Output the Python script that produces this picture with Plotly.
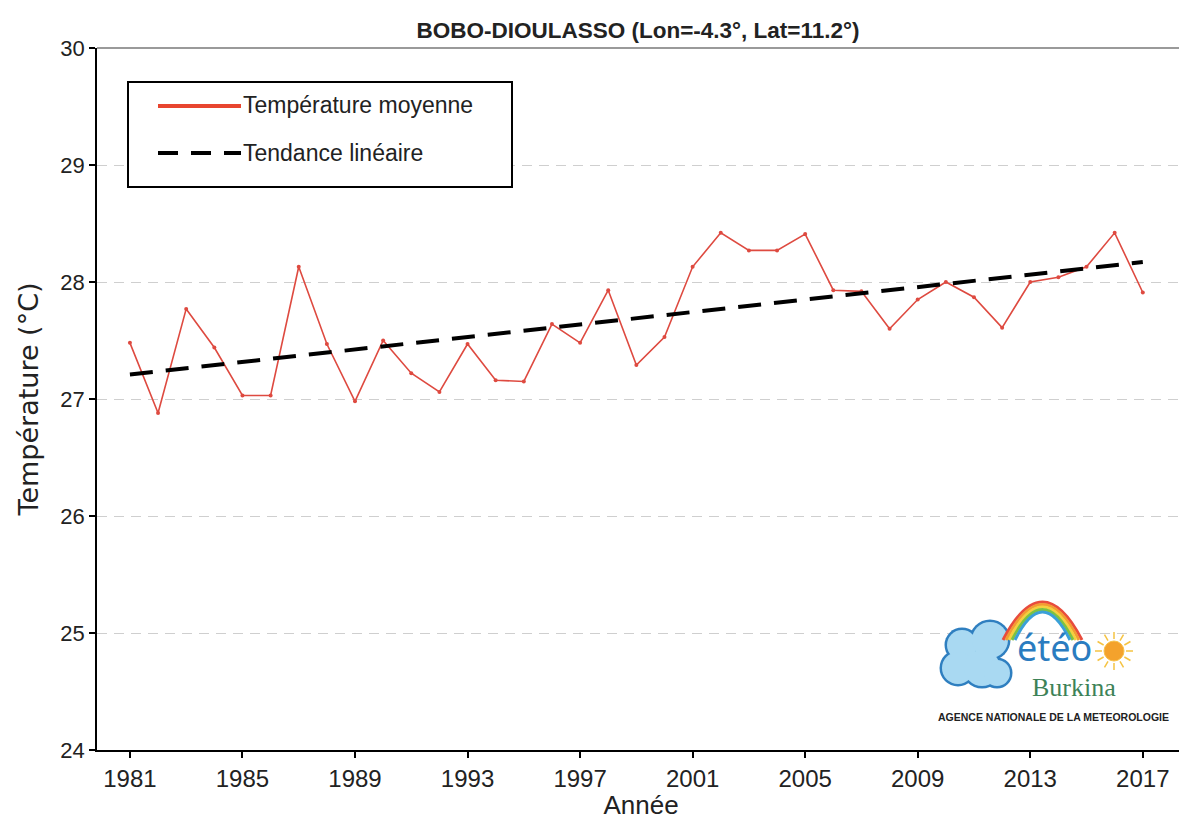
import math
import plotly.graph_objects as go

# ---------------- data ----------------
years = list(range(1981, 2018))
temperature = [27.48, 26.88, 27.77, 27.44, 27.03, 27.03, 28.13, 27.47, 26.98, 27.50,
               27.22, 27.06, 27.47, 27.16, 27.15, 27.64, 27.48, 27.93, 27.29, 27.53,
               28.13, 28.42, 28.27, 28.27, 28.41, 27.93, 27.92, 27.60, 27.85, 28.00,
               27.87, 27.61, 28.00, 28.04, 28.13, 28.42, 27.91]
trend_years = [1981, 2017]
trend_values = [27.21, 28.17]
x_ticks = [1981, 1985, 1989, 1993, 1997, 2001, 2005, 2009, 2013, 2017]
y_ticks = [24, 25, 26, 27, 28, 29, 30]

title_text = "BOBO-DIOULASSO (Lon=-4.3°, Lat=11.2°)"
legend_labels = ["Température moyenne", "Tendance linéaire"]

# ---------------- layout helpers ----------------
# page offset of the figure (default body margin) and figure size
OFF = 8
W, H = 1187 - OFF, 820 - OFF
# plot area in page pixels
PL, PR, PT, PB = 97, 1185, 48, 750
L, R, T, B = PL - OFF, PR - OFF, PT - OFF, PB - OFF


def px(x):
    return (x - PL) / (PR - PL)


def py(y):
    return (PB - y) / (PB - PT)


SANS = "Liberation Sans, Arial, sans-serif"
TXT = "#222222"

fig = go.Figure()

fig.add_trace(go.Scatter(
    x=years, y=temperature, mode="lines+markers",
    line=dict(color="#de4a40", width=1.6),
    marker=dict(color="#de4a40", size=4),
    name=legend_labels[0], showlegend=False,
))
fig.add_trace(go.Scatter(
    x=trend_years, y=trend_values, mode="lines",
    line=dict(color="black", width=4, dash="23px,13px"),
    name=legend_labels[1], showlegend=False,
))

shapes = []
annotations = []

# top and right frame lines (grey)
shapes.append(dict(type="line", xref="paper", yref="paper", x0=0, x1=1, y0=1, y1=1,
                   line=dict(color="#9a9a9a", width=2), layer="above"))
shapes.append(dict(type="line", xref="paper", yref="paper", x0=1, x1=1, y0=0, y1=1,
                   line=dict(color="#d0d0d0", width=1.5), layer="above"))

# manual legend box
shapes.append(dict(type="rect", xref="paper", yref="paper",
                   x0=px(128), x1=px(512), y0=py(187), y1=py(82),
                   line=dict(color="black", width=2), fillcolor="white", layer="above"))
shapes.append(dict(type="line", xref="paper", yref="paper",
                   x0=px(158), x1=px(241), y0=py(106), y1=py(106),
                   line=dict(color="#e8452f", width=4), layer="above"))
shapes.append(dict(type="line", xref="paper", yref="paper",
                   x0=px(158), x1=px(241), y0=py(153), y1=py(153),
                   line=dict(color="black", width=4, dash="20px,13px"), layer="above"))
for lab, yy in zip(legend_labels, [105, 153]):
    annotations.append(dict(text=lab, xref="paper", yref="paper", x=px(241), y=py(yy),
                            xanchor="left", yanchor="middle", showarrow=False,
                            font=dict(family=SANS, size=23, color=TXT)))

# ---------------- logo ----------------
dark_blue = "#2f7fc0"
light_blue = "#a9d9f2"
cloud = [(962, 645, 15), (990, 640, 18), (958, 668, 16), (982, 668, 18), (997, 673, 13)]
for cx, cy, r in cloud:
    rr = r + 2.5
    shapes.append(dict(type="circle", xref="paper", yref="paper",
                       x0=px(cx - rr), x1=px(cx + rr), y0=py(cy + rr), y1=py(cy - rr),
                       fillcolor=dark_blue, line=dict(width=0), layer="above"))
for cx, cy, r in cloud:
    shapes.append(dict(type="circle", xref="paper", yref="paper",
                       x0=px(cx - r), x1=px(cx + r), y0=py(cy + r), y1=py(cy - r),
                       fillcolor=light_blue, line=dict(width=0), layer="above"))
# rainbow
rainbow = ["#e84c3d", "#f39c33", "#f4d03f", "#7dc242", "#3aa0d8"]
for i, col in enumerate(rainbow):
    x0, x1 = 1003 + i * 3, 1082 - i * 3
    yb = 640
    cy = 564 + i * 5
    path = "M {:.5f},{:.5f} Q {:.5f},{:.5f} {:.5f},{:.5f}".format(
        px(x0), py(yb), px((x0 + x1) / 2), py(cy), px(x1), py(yb))
    shapes.append(dict(type="path", xref="paper", yref="paper", path=path,
                       line=dict(color=col, width=3), layer="above"))
# sun
sx, sy = 1114, 651
for k in range(12):
    a = k * math.pi / 6
    shapes.append(dict(type="line", xref="paper", yref="paper",
                       x0=px(sx + 12 * math.cos(a)), y0=py(sy + 12 * math.sin(a)),
                       x1=px(sx + 19 * math.cos(a)), y1=py(sy + 19 * math.sin(a)),
                       line=dict(color="#f5c342", width=1.5), layer="above"))
shapes.append(dict(type="circle", xref="paper", yref="paper",
                   x0=px(sx - 10), x1=px(sx + 10), y0=py(sy + 10), y1=py(sy - 10),
                   fillcolor="#f4a22c", line=dict(color="#f7c24a", width=1), layer="above"))

annotations.append(dict(text="étéo", xref="paper", yref="paper", x=px(1054), y=py(647),
                        xanchor="center", yanchor="middle", showarrow=False,
                        font=dict(family="Noto Sans, sans-serif", size=36, color="#2a7cc0")))
annotations.append(dict(text="Burkina", xref="paper", yref="paper", x=px(1074), y=py(687),
                        xanchor="center", yanchor="middle", showarrow=False,
                        font=dict(family="Liberation Serif, serif", size=26, color="#3d8257")))
annotations.append(dict(text="<b>AGENCE NATIONALE DE LA METEOROLOGIE</b>", xref="paper", yref="paper",
                        x=px(1053), y=py(717), xanchor="center", yanchor="middle", showarrow=False,
                        font=dict(family=SANS, size=10.5, color=TXT)))

fig.update_layout(
    width=W, height=H,
    margin=dict(l=L, r=W - R, t=T, b=H - B, pad=0, autoexpand=False),
    paper_bgcolor="white", plot_bgcolor="white",
    title=dict(text="<b>" + title_text + "</b>", x=px(638), xref="paper", xanchor="center",
               y=1 - (30 - OFF) / H, yref="container", yanchor="middle",
               font=dict(family=SANS, size=22.5, color=TXT)),
    shapes=shapes, annotations=annotations,
    showlegend=False,
)
fig.update_xaxes(
    range=[1979.83, 2018.5], tickmode="array", tickvals=x_ticks, automargin=False,
    ticks="outside", ticklen=6, tickwidth=1.5, tickcolor="black",
    showline=True, linecolor="black", linewidth=2, showgrid=False, zeroline=False,
    tickfont=dict(family=SANS, size=24, color=TXT),
    title=dict(text="Année", font=dict(family=SANS, size=26, color=TXT), standoff=2),
)
fig.update_yaxes(
    range=[24, 30], tickmode="array", tickvals=y_ticks, automargin=False,
    ticks="outside", ticklen=6, tickwidth=1.5, tickcolor="black",
    showline=True, linecolor="black", linewidth=1.5, zeroline=False,
    showgrid=True, gridcolor="#cfcfcf", gridwidth=1, griddash="10px,7px",
    tickfont=dict(family=SANS, size=22, color=TXT),
    title=dict(text="Température (°C)", font=dict(family="DejaVu Sans, sans-serif", size=27, color=TXT),
               standoff=14),
)

fig.write_html("out.html")
